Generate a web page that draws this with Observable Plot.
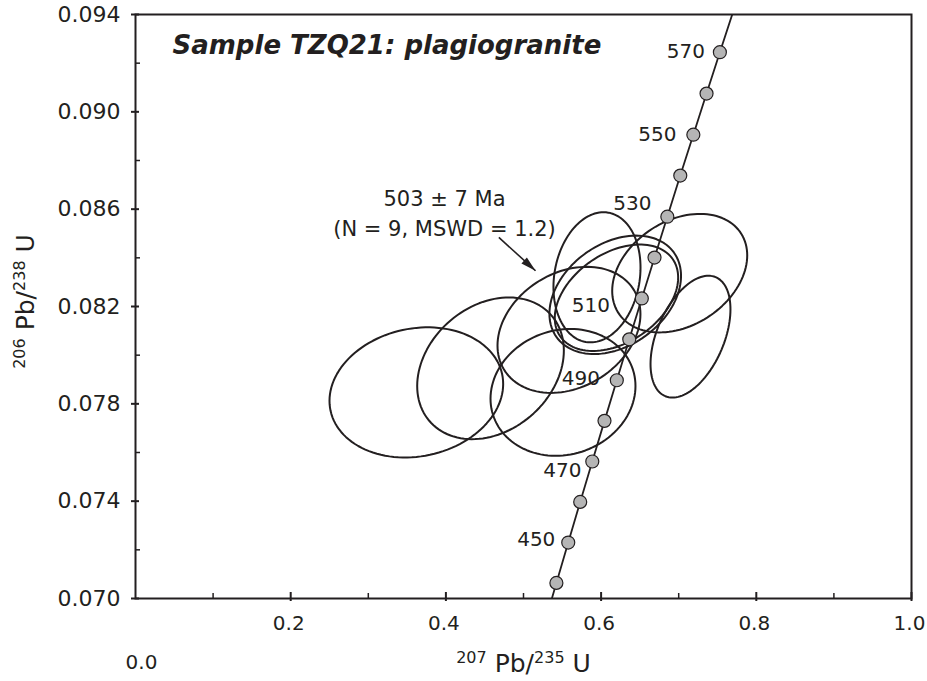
<!DOCTYPE html>
<html><head><meta charset="utf-8">
<script src="https://cdn.jsdelivr.net/npm/d3@7"></script>
<script src="https://cdn.jsdelivr.net/npm/@observablehq/plot@0.6"></script>
<style>body{margin:0;background:#fff}</style>
</head><body><div id="chart"></div>
<script>
// Concordia ages (Ma) and ratios
const concAges = [430,440,450,460,470,480,490,500,510,520,530,540,550,560,570,580,590];
const concX = [0.52728,0.54239,0.55766,0.57307,0.58864,0.60437,0.62024,0.63628,0.65247,0.66883,0.68535,0.70203,0.71887,0.73588,0.75307,0.77041,0.78794];
const concY = [0.06898,0.07064,0.07230,0.07397,0.07563,0.07730,0.07897,0.08065,0.08233,0.08401,0.08569,0.08738,0.08906,0.09075,0.09245,0.09414,0.09584];
const dotAges = [440,450,460,470,480,490,500,510,520,530,540,550,560,570];
const labelAges = [450,470,490,510,530,550,570];

// Error ellipses: centre, half-widths, correlation
const ellCx  = [0.3619,0.4575,0.5509,0.5947,0.7013,0.7152,0.6182,0.6198,0.5586];
const ellSx  = [0.1119,0.0945,0.0934,0.0561,0.0870,0.0515,0.0848,0.0795,0.0921];
const ellCy  = [0.07847,0.07946,0.07847,0.08320,0.08337,0.08076,0.08248,0.08236,0.08104];
const ellSy  = [0.002674,0.002912,0.002606,0.002674,0.002435,0.002503,0.002433,0.002186,0.002590];
const ellRho = [0.13,0.25,0.10,0.15,0.30,0.45,0.32,0.38,0.25];

const xMajor = [0.2,0.4,0.6,0.8,1.0];
const xMinor = [0.1,0.3,0.5,0.7,0.9];
const yMajor = [0.070,0.074,0.078,0.082,0.086,0.090,0.094];
const yMinor = [0.072,0.076,0.080,0.084,0.088,0.092];

const titleText = "Sample TZQ21: plagiogranite";
const annotText = "503 ± 7 Ma\n(N = 9, MSWD = 1.2)";
const annotPos = [0.3982, 0.08590];
const arrowFrom = [0.4682, 0.08484];
const arrowTo = [0.5155, 0.08347];
const xTitle = "207 Pb/235 U";
const yTitle = "206 Pb/238 U";

// tables
const conc = concAges.map((a,i)=>({age:a,x:concX[i],y:concY[i]}));
const dots = conc.filter(d=>dotAges.includes(d.age));
const labs = conc.filter(d=>labelAges.includes(d.age));
const ellPts = [];
ellCx.forEach((cx,k)=>{
  const n=120, r=ellRho[k], q=Math.sqrt(1-r*r);
  for(let i=0;i<=n;i++){const t=2*Math.PI*i/n;
    ellPts.push({id:k,x:cx+ellSx[k]*Math.cos(t),y:ellCy[k]+ellSy[k]*(r*Math.cos(t)+q*Math.sin(t))});}
});

const W=927,H=681,mL=135,mR=16,mT=14,mB=83;
const fw=W-mL-mR, fh=H-mT-mB;
const ink="#231f20";
const labOff = {450:[-32,-3],470:[-30,9],490:[-36,-2],510:[-51,7],530:[-35,-13],550:[-36,0],570:[-34,-1]};
const headSym = {draw(ctx,size){const s=Math.sqrt(size/Math.PI);ctx.moveTo(0,0);ctx.lineTo(-s*0.45,s*1.7);ctx.lineTo(s*0.45,s*1.7);ctx.closePath();}};

const chart = Plot.plot({
  width:W,height:H,marginLeft:mL,marginRight:mR,marginTop:mT,marginBottom:mB,
  style:{fontFamily:"DejaVu Sans",fontSize:"21px",color:ink,background:"#fff"},
  x:{domain:[0,1]},
  y:{domain:[0.070,0.094]},
  marks:[
    Plot.line(ellPts,{x:"x",y:"y",z:"id",stroke:ink,strokeWidth:2}),
    Plot.line(conc,{x:"x",y:"y",stroke:ink,strokeWidth:1.8,clip:true}),
    Plot.dot(dots,{x:"x",y:"y",r:6.5,fill:"#b5b5b5",stroke:ink,strokeWidth:1.2}),
    Plot.text(labs,{x:"x",y:"y",text:d=>String(d.age),fontSize:20,fill:ink}),
    Plot.link([0],{x1:()=>arrowFrom[0],y1:()=>arrowFrom[1],x2:()=>arrowTo[0],y2:()=>arrowTo[1],stroke:ink,strokeWidth:1.6}),
    Plot.dot([0],{x:()=>arrowTo[0],y:()=>arrowTo[1],symbol:headSym,r:9,rotate:132,fill:ink,stroke:"none"}),
    Plot.text([annotText],{x:()=>annotPos[0],y:()=>annotPos[1],text:d=>d,fontSize:21,lineHeight:1.4,fill:ink}),
    Plot.text([titleText],{frameAnchor:"top-left",dx:37,dy:21,lineAnchor:"top",textAnchor:"start",text:d=>d,fontSize:26,fontWeight:"bold",fontStyle:"italic",fill:ink}),
    Plot.tickY(yMajor,{y:d=>d,insetLeft:-4,insetRight:fw-4,stroke:ink,strokeWidth:2}),
    Plot.tickY(yMinor,{y:d=>d,insetRight:fw-5,stroke:ink,strokeWidth:1.5}),
    Plot.tickX(xMajor,{x:d=>d,insetTop:fh-6,insetBottom:-3,stroke:ink,strokeWidth:2}),
    Plot.tickX(xMinor,{x:d=>d,insetTop:fh-5,stroke:ink,strokeWidth:1.5}),
    Plot.axisY(yMajor,{tickSize:0,tickPadding:15,tickFormat:d3.format(".3f"),label:null,fill:ink,fontSize:22}),
    Plot.axisX(xMajor,{tickSize:0,tickPadding:17,dx:-2,tickFormat:d3.format(".1f"),label:null,fill:ink,fontSize:20}),
    Plot.text([0],{x:d=>d,frameAnchor:"bottom",dx:6,dy:64,lineAnchor:"middle",text:d=>d3.format(".1f")(d),fontSize:20,fill:ink}),
    Plot.text([xTitle],{frameAnchor:"bottom",dy:65,lineAnchor:"middle",textAnchor:"middle",text:d=>d,fontSize:25,fill:ink}),
    Plot.text([yTitle],{frameAnchor:"left",dx:-110,dy:-5,rotate:-90,lineAnchor:"middle",textAnchor:"middle",text:d=>d,fontSize:25,fill:ink}),
    Plot.frame({stroke:ink,strokeWidth:2})
  ]
});
document.getElementById("chart").appendChild(chart);
const sel = d3.select(chart);
// per-label offsets for concordia age labels
sel.selectAll("text").filter(function(){return /^(450|470|490|510|530|550|570)$/.test(this.textContent);})
  .each(function(){const o=labOff[this.textContent];const t=this.getAttribute("transform")||"";this.setAttribute("transform",t+` translate(${o[0]},${o[1]})`);});
// superscript isotope masses in axis titles
sel.selectAll("text").filter(function(){return this.textContent===xTitle||this.textContent===yTitle;})
  .each(function(){
    const s=this.textContent; const el=d3.select(this); el.text(null);
    const parts=s.match(/\d+|[^\d]+/g);
    let up=false;
    parts.forEach(p=>{
      const isNum=/^\d+$/.test(p);
      const ts=el.append("tspan").text(p);
      if(isNum){ts.attr("font-size",16).attr("dy",up?0:-9);up=true;}
      else{ts.attr("dy",up?9:0);up=false;}
    });
  });
</script></body></html>
